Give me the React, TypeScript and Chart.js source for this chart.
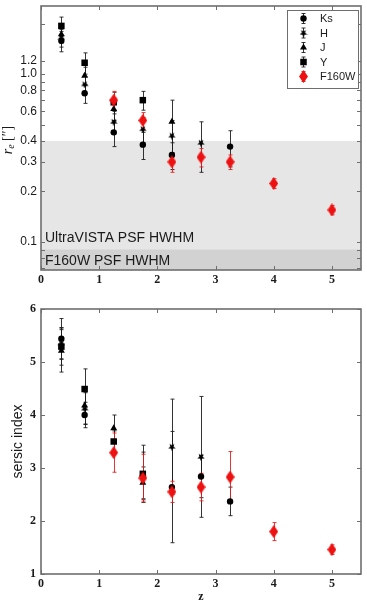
import React, { useEffect, useRef } from 'react';
import { Chart, registerables } from 'chart.js';

Chart.register(...registerables);

// redshift bins
const zBands = [0.35, 0.75, 1.25, 1.75, 2.25, 2.75, 3.25];
const zF160W = [1.25, 1.75, 2.25, 2.75, 3.25, 4, 5];
const xTicks = [0, 1, 2, 3, 4, 5];

// effective radius r_e (arcsec) and errors per band
const reKs = [1.58, 0.77, 0.45, 0.38, 0.33, null, 0.37];
const reKsErr = [0.22, 0.1, 0.08, 0.07, 0.06, null, 0.09];
const reH = [1.65, 0.87, 0.52, 0.47, 0.43, 0.39, null];
const reHErr = [0.2, 0.1, 0.08, 0.08, 0.1, 0.13, null];
const reJ = [1.73, 0.98, 0.62, null, 0.52, null, null];
const reJErr = [0.2, 0.12, 0.1, null, 0.18, null, null];
const reY = [1.94, 1.17, 0.68, 0.7, null, null, null];
const reYErr = [0.25, 0.17, 0.1, 0.09, null, null, null];
const reF160W = [0.7, 0.53, 0.3, 0.32, 0.3, 0.223, 0.155];
const reF160WErr = [0.09, 0.06, 0.04, 0.04, 0.03, 0.015, 0.01];

// sersic index and errors per band
const nKs = [5.44, 4.0, null, 2.85, 2.64, 2.84, 2.37];
const nKsErr = [0.38, 0.24, null, 0.45, 1.05, 0.4, 0.27];
const nH = [5.35, 4.12, null, null, 3.4, 3.21, null];
const nHErr = [0.3, 0.3, null, null, 0.9, 1.14, null];
const nJ = [5.21, 4.18, 3.75, 2.72, null, null, null];
const nJErr = [0.4, 0.35, 0.25, 0.3, null, null, null];
const nY = [5.29, 4.49, 3.5, 2.89, null, null, null];
const nYErr = [0.35, 0.38, 0.2, 0.54, null, null, null];
const nF160W = [3.29, 2.81, 2.55, 2.64, 2.83, 1.8, 1.46];
const nF160WErr = [0.37, 0.45, 0.2, 0.26, 0.48, 0.17, 0.09];

// r_e axis ticks
const reTickLabels = [0.1, 0.2, 0.3, 0.4, 0.6, 0.8, 1.0, 1.2];
const reMinorTicks = [0.07, 0.08, 0.09, 0.5, 0.7, 0.9, 2];
const nTicks = [1, 2, 3, 4, 5, 6];

// PSF half widths (arcsec)
const psfUltraVista = 0.4;
const psfF160W = 0.09;
const psfLabels = ['UltraVISTA PSF HWHM', 'F160W PSF HWHM'];

const bandNames = ['Ks', 'H', 'J', 'Y', 'F160W'];

const BLACK = '#000000';
const RED = '#ee1111';
const FRAME = '#6e6e6e';
const SANS = '"Liberation Sans", Arial, sans-serif';
const SERIF = '"Liberation Serif", "DejaVu Serif", serif';

function points(xs: number[], ys: (number | null)[], es: (number | null)[]) {
  const out: any[] = [];
  xs.forEach((x, i) => {
    if (ys[i] != null) out.push({ x, y: ys[i], e: es[i] ?? 0 });
  });
  return out;
}

function diamondImg(color: string) {
  const w = 9, h = 13;
  const c = document.createElement('canvas');
  c.width = w; c.height = h;
  const g = c.getContext('2d')!;
  g.fillStyle = color;
  g.beginPath();
  g.moveTo(w / 2, 0); g.lineTo(w, h / 2); g.lineTo(w / 2, h); g.lineTo(0, h / 2);
  g.closePath(); g.fill();
  return c;
}

function starImg(color: string) {
  const s = 8;
  const c = document.createElement('canvas');
  c.width = s; c.height = s;
  const g = c.getContext('2d')!;
  g.fillStyle = color;
  g.beginPath();
  for (let k = 0; k < 10; k++) {
    const r = k % 2 === 0 ? 4 : 1.7;
    const a = Math.PI / 2 + (k * Math.PI) / 5;
    const px = s / 2 + r * Math.cos(a), py = s / 2 + 0.3 + r * Math.sin(a);
    if (k === 0) g.moveTo(px, py); else g.lineTo(px, py);
  }
  g.closePath(); g.fill();
  return c;
}

type Marker = { style: any; radius: number; color: string };

function markers(): Marker[] {
  return [
    { style: 'circle', radius: 3.2, color: BLACK },
    { style: starImg(BLACK), radius: 4, color: BLACK },
    { style: 'triangle', radius: 4, color: BLACK },
    { style: 'rect', radius: 4.6, color: BLACK },
    { style: diamondImg(RED), radius: 6, color: RED },
  ];
}

function makeDatasets(series: any[][], mk: Marker[]) {
  return series.map((data, i) => ({
    label: bandNames[i],
    data,
    pointStyle: mk[i].style,
    pointRadius: mk[i].radius,
    pointHoverRadius: mk[i].radius,
    backgroundColor: mk[i].color,
    borderColor: mk[i].color,
    borderWidth: 0,
    showLine: false,
    order: i === 4 ? 0 : 5 - i,
    errColor: i === 4 ? 'rgba(230,30,30,0.9)' : 'rgba(30,30,30,0.9)',
  }));
}

function noPad(s: any) {
  s.paddingTop = 0;
  s.paddingBottom = 0;
  s.paddingLeft = 0;
  s.paddingRight = 0;
}

function drawErrorBars(chart: any) {
  const { ctx, chartArea: a, scales } = chart;
  const x = scales.x, y = scales.y;
  ctx.save();
  ctx.beginPath();
  ctx.rect(a.left, a.top, a.right - a.left, a.bottom - a.top);
  ctx.clip();
  ctx.lineWidth = 1;
  chart.data.datasets.forEach((ds: any) => {
    ctx.strokeStyle = ds.errColor;
    ds.data.forEach((p: any) => {
      const px = Math.round(x.getPixelForValue(p.x)) + 0.5;
      const y1 = y.getPixelForValue(p.y - p.e);
      const y2 = y.getPixelForValue(p.y + p.e);
      ctx.beginPath();
      ctx.moveTo(px, y1); ctx.lineTo(px, y2);
      ctx.moveTo(px - 2, y1); ctx.lineTo(px + 2, y1);
      ctx.moveTo(px - 2, y2); ctx.lineTo(px + 2, y2);
      ctx.stroke();
    });
  });
  ctx.restore();
}

function drawFrame(chart: any, yTickVals: number[]) {
  const { ctx, chartArea: a, scales } = chart;
  const x = scales.x, y = scales.y;
  ctx.save();
  ctx.strokeStyle = FRAME;
  ctx.lineWidth = 1;
  const tl = 4;
  ctx.beginPath();
  xTicks.forEach((v) => {
    const px = Math.round(x.getPixelForValue(v)) + 0.5;
    ctx.moveTo(px, a.top); ctx.lineTo(px, a.top + tl);
    ctx.moveTo(px, a.bottom); ctx.lineTo(px, a.bottom - tl);
  });
  yTickVals.forEach((v) => {
    const py = Math.round(y.getPixelForValue(v)) + 0.5;
    ctx.moveTo(a.left, py); ctx.lineTo(a.left + tl, py);
    ctx.moveTo(a.right, py); ctx.lineTo(a.right - tl, py);
  });
  ctx.stroke();
  ctx.lineWidth = 1.6;
  ctx.strokeRect(a.left, a.top, a.right - a.left, a.bottom - a.top);
  ctx.restore();
}

const topPlugin = {
  id: 'rePanel',
  beforeDatasetsDraw(chart: any) {
    const { ctx, chartArea: a, scales } = chart;
    const y = scales.y;
    ctx.save();
    const yU = y.getPixelForValue(psfUltraVista);
    const yF = y.getPixelForValue(psfF160W);
    ctx.fillStyle = '#e6e6e6';
    ctx.fillRect(a.left, yU, a.right - a.left, a.bottom - yU);
    ctx.fillStyle = '#d2d2d2';
    ctx.fillRect(a.left, yF, a.right - a.left, a.bottom - yF);
    ctx.fillStyle = '#1a1a1a';
    ctx.font = `14px ${SANS}`;
    ctx.textBaseline = 'middle';
    ctx.textAlign = 'left';
    ctx.fillText(psfLabels[0], a.left + 4, yF - 11);
    ctx.fillText(psfLabels[1], a.left + 4, (yF + a.bottom) / 2 + 1);
    ctx.restore();
    drawErrorBars(chart);
  },
  afterDraw(chart: any) {
    const { ctx, chartArea: a } = chart;
    drawFrame(chart, [...reTickLabels, ...reMinorTicks]);

    // axis title r_e ["]
    ctx.save();
    ctx.translate(12, (a.top + a.bottom) / 2 + 2);
    ctx.rotate(-Math.PI / 2);
    ctx.fillStyle = '#1a1a1a';
    ctx.textBaseline = 'alphabetic';
    ctx.textAlign = 'left';
    ctx.font = `italic 14px ${SERIF}`;
    const wr = ctx.measureText('r').width;
    ctx.font = `italic 10px ${SERIF}`;
    const we = ctx.measureText('e').width;
    ctx.font = `14px ${SERIF}`;
    const wb = ctx.measureText(' [″]').width;
    let cx = -(wr + we + wb) / 2;
    ctx.font = `italic 14px ${SERIF}`;
    ctx.fillText('r', cx, 0); cx += wr;
    ctx.font = `italic 10px ${SERIF}`;
    ctx.fillText('e', cx, 2); cx += we;
    ctx.font = `14px ${SERIF}`;
    ctx.fillText(' [″]', cx, 0);
    ctx.restore();

    // legend
    const mk = markers();
    const bx = 287.5, by = 10.5, bw = 71, bh = 78;
    ctx.save();
    ctx.fillStyle = '#ffffff';
    ctx.fillRect(bx, by, bw, bh);
    ctx.strokeStyle = FRAME;
    ctx.lineWidth = 1;
    ctx.strokeRect(bx, by, bw, bh);
    const rowY = [18.5, 33, 47.5, 62, 76.5];
    const mx = 303;
    bandNames.forEach((name, i) => {
      const ry = rowY[i];
      ctx.strokeStyle = i === 4 ? 'rgba(230,30,30,0.9)' : 'rgba(30,30,30,0.9)';
      ctx.lineWidth = 1;
      ctx.beginPath();
      ctx.moveTo(mx + 0.5, ry - 5); ctx.lineTo(mx + 0.5, ry + 5);
      ctx.moveTo(mx - 1.5, ry - 5); ctx.lineTo(mx + 2.5, ry - 5);
      ctx.moveTo(mx - 1.5, ry + 5); ctx.lineTo(mx + 2.5, ry + 5);
      ctx.stroke();
      ctx.fillStyle = mk[i].color;
      const st = mk[i].style;
      const cxm = mx + 0.5;
      if (st === 'circle') {
        ctx.beginPath(); ctx.arc(cxm, ry, 3.2, 0, Math.PI * 2); ctx.fill();
      } else if (st === 'triangle') {
        ctx.beginPath(); ctx.moveTo(cxm, ry - 4); ctx.lineTo(cxm + 3.5, ry + 2); ctx.lineTo(cxm - 3.5, ry + 2); ctx.closePath(); ctx.fill();
      } else if (st === 'rect') {
        ctx.fillRect(cxm - 3.25, ry - 3.25, 6.5, 6.5);
      } else {
        ctx.drawImage(st, cxm - st.width / 2, ry - st.height / 2);
      }
      ctx.fillStyle = '#1a1a1a';
      ctx.font = `11px ${SANS}`;
      ctx.textBaseline = 'middle';
      ctx.textAlign = 'left';
      ctx.fillText(name, 320, ry + 0.5);
    });
    ctx.restore();
  },
};

const bottomPlugin = {
  id: 'nPanel',
  beforeDatasetsDraw(chart: any) {
    drawErrorBars(chart);
  },
  afterDraw(chart: any) {
    drawFrame(chart, nTicks);
  },
};

function xScale(height: number, withTitle: boolean) {
  return {
    type: 'linear',
    min: 0,
    max: 5.5,
    grid: { display: false, drawTicks: false },
    border: { display: false },
    afterBuildTicks: (s: any) => { s.ticks = xTicks.map((v) => ({ value: v })); },
    afterFit: (s: any) => { s.height = height; noPad(s); },
    ticks: {
      autoSkip: false,
      maxRotation: 0,
      padding: 3,
      color: '#1a1a1a',
      font: { family: SERIF, size: 12, weight: 'bold' },
      callback: (v: any) => String(v),
    },
    title: withTitle
      ? { display: true, text: 'z', color: '#1a1a1a', font: { family: SERIF, size: 12, weight: 'bold', lineHeight: 1 }, padding: { top: 0, bottom: 0 } }
      : { display: false },
  };
}

function baseOptions() {
  return {
    responsive: false,
    animation: false,
    events: [],
    plugins: { legend: { display: false }, tooltip: { enabled: false } },
  };
}

export default function App() {
  const topRef = useRef<HTMLCanvasElement>(null);
  const botRef = useRef<HTMLCanvasElement>(null);

  useEffect(() => {
    const mk = markers();
    const topSeries = [
      points(zBands, reKs, reKsErr),
      points(zBands, reH, reHErr),
      points(zBands, reJ, reJErr),
      points(zBands, reY, reYErr),
      points(zF160W, reF160W, reF160WErr),
    ];
    const botSeries = [
      points(zBands, nKs, nKsErr),
      points(zBands, nH, nHErr),
      points(zBands, nJ, nJErr),
      points(zBands, nY, nYErr),
      points(zF160W, nF160W, nF160WErr),
    ];

    const top = new Chart(topRef.current!, {
      type: 'scatter',
      data: { datasets: makeDatasets(topSeries, mk) as any },
      options: {
        ...baseOptions(),
        layout: { padding: { left: 0, top: 5, right: 4, bottom: 0 } },
        scales: {
          x: xScale(30, false),
          y: {
            type: 'logarithmic',
            min: 0.068,
            max: 2.55,
            grid: { display: false, drawTicks: false },
            border: { display: false },
            afterBuildTicks: (s: any) => { s.ticks = reTickLabels.map((v) => ({ value: v })); },
            afterFit: (s: any) => { s.width = 41; noPad(s); },
            ticks: {
              autoSkip: false,
              padding: 4,
              color: '#1a1a1a',
              font: { family: SANS, size: 12 },
              callback: (v: any) => Number(v).toFixed(1),
            },
          },
        },
      } as any,
      plugins: [topPlugin],
    });

    const bottom = new Chart(botRef.current!, {
      type: 'scatter',
      data: { datasets: makeDatasets(botSeries, mk) as any },
      options: {
        ...baseOptions(),
        layout: { padding: { left: 0, top: 9, right: 4, bottom: 0 } },
        scales: {
          x: xScale(29, true),
          y: {
            type: 'linear',
            min: 1,
            max: 6,
            grid: { display: false, drawTicks: false },
            border: { display: false },
            afterBuildTicks: (s: any) => { s.ticks = nTicks.map((v) => ({ value: v })); },
            afterFit: (s: any) => { s.width = 41; noPad(s); },
            ticks: {
              autoSkip: false,
              padding: 5,
              color: '#1a1a1a',
              font: { family: SERIF, size: 12, weight: 'bold' },
            },
            title: {
              display: true,
              text: 'sersic index',
              color: '#1a1a1a',
              font: { family: SANS, size: 14 },
              padding: { top: 10, bottom: 0 },
            },
          },
        },
      } as any,
      plugins: [bottomPlugin],
    });

    return () => {
      top.destroy();
      bottom.destroy();
    };
  }, []);

  return (
    <div style={{ position: 'fixed', left: 0, top: 0, width: 367, height: 603, background: '#ffffff' }}>
      <canvas ref={topRef} width={367} height={300} style={{ position: 'absolute', left: 0, top: 0, width: 367, height: 300 }} />
      <canvas ref={botRef} width={367} height={303} style={{ position: 'absolute', left: 0, top: 300, width: 367, height: 303 }} />
    </div>
  );
}
